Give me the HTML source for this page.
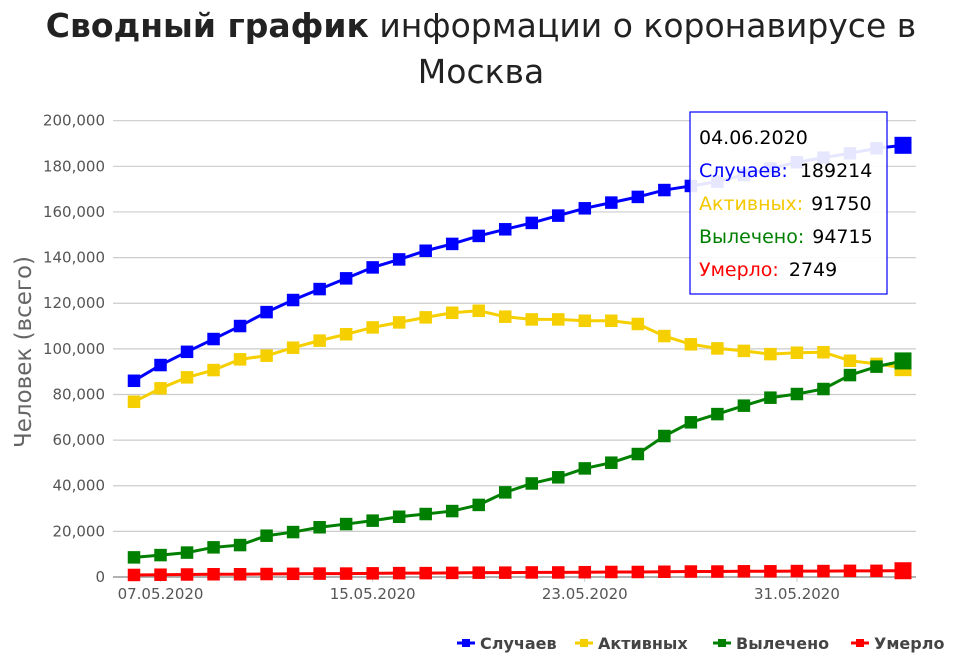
<!DOCTYPE html>
<html><head><meta charset="utf-8"><style>
body{margin:0;background:#fff;width:963px;height:656px;overflow:hidden;font-family:"Liberation Sans","DejaVu Sans",sans-serif}
svg text{font-family:"DejaVu Sans","Liberation Sans",sans-serif}
</style></head><body>
<svg id="chart" width="963" height="656" xmlns="http://www.w3.org/2000/svg">
<text x="481" y="37" text-anchor="middle" font-size="33" fill="#222"><tspan font-weight="bold">Сводный график</tspan> информации о коронавирусе в</text>
<text x="481" y="83" text-anchor="middle" font-size="33" fill="#222">Москва</text>
<text transform="translate(31,352) rotate(-90)" text-anchor="middle" font-size="23" fill="#666">Человек (всего)</text>
<g id="grid"></g><g id="series"></g>
<g>
<rect x="690" y="112" width="197" height="182" fill="#fff" stroke="#0000ff" stroke-width="1.2" fill-opacity="0.9"/>
<text x="699" y="144" font-size="19" fill="#000">04.06.2020</text>
<text x="699" y="177" font-size="19"><tspan fill="#0000ff">Случаев:</tspan><tspan fill="#000" dx="12">189214</tspan></text>
<text x="699" y="210" font-size="19"><tspan fill="#f5c800">Активных:</tspan><tspan fill="#000" dx="8">91750</tspan></text>
<text x="699" y="243" font-size="19"><tspan fill="#008000">Вылечено:</tspan><tspan fill="#000" dx="8">94715</tspan></text>
<text x="699" y="276" font-size="19"><tspan fill="#ff0000">Умерло:</tspan><tspan fill="#000" dx="10">2749</tspan></text>
</g>
<g id="legend"></g>
</svg>
<script>
const dates=["06.05","07.05","08.05","09.05","10.05","11.05","12.05","13.05","14.05","15.05","16.05","17.05","18.05","19.05","20.05","21.05","22.05","23.05","24.05","25.05","26.05","27.05","28.05","29.05","30.05","31.05","01.06","02.06","03.06","04.06"];
const cases=[86.0,92.9,98.7,104.3,110.0,116.1,121.4,126.2,130.9,135.7,139.2,143.0,146.0,149.5,152.4,155.2,158.4,161.6,164.1,166.6,169.6,171.4,173.3,176.2,179.0,181.8,183.8,185.7,187.9,189.214];
const active=[76.8,82.7,87.5,90.7,95.4,97.0,100.5,103.6,106.4,109.4,111.6,113.8,115.8,116.7,114.1,112.9,112.9,112.3,112.3,110.9,105.6,102.0,100.2,99.1,97.7,98.3,98.5,94.8,93.4,91.75];
const recovered=[8.6,9.6,10.7,13.0,14.0,18.1,19.7,21.8,23.2,24.7,26.4,27.6,28.9,31.6,37.1,41.0,43.7,47.6,50.1,53.9,61.8,67.8,71.4,75.1,78.6,80.2,82.4,88.5,92.2,94.715];
const deaths=[0.9,1.0,1.1,1.2,1.2,1.3,1.4,1.5,1.5,1.6,1.7,1.7,1.8,1.9,1.9,2.0,2.0,2.1,2.2,2.2,2.3,2.4,2.4,2.5,2.5,2.6,2.6,2.7,2.7,2.749];
const yTicks=[0,20,40,60,80,100,120,140,160,180,200];
const xTickIdx=[1,9,17,25];
const NS="http://www.w3.org/2000/svg";
const x=i=>134+i*(903-134)/(dates.length-1);
const y=v=>577-v*(577-120.7)/200;
function mk(t,a,p){const e=document.createElementNS(NS,t);for(const k in a)e.setAttribute(k,a[k]);p.appendChild(e);return e;}
const grid=document.getElementById('grid');
yTicks.forEach(v=>{
 const l=mk('line',{x1:113,x2:916,y1:y(v),y2:y(v),stroke:v===0?'#999':'#ccc','stroke-width':v===0?1.5:1.2},grid);
 
 
 const t=mk('text',{x:105,y:y(v)+5,'text-anchor':'end','font-size':15,fill:'#555'},grid);
 t.textContent=(v*1000).toLocaleString('en-US');
 
 
});
xTickIdx.forEach(i=>{
 mk('line',{x1:x(i),x2:x(i),y1:577,y2:582,stroke:'#ccc'},grid);
 const t=mk('text',{x:x(i),y:599,'text-anchor':'middle','font-size':15,fill:'#555'},grid);
 t.textContent=dates[i]+'.2020';
 
 
});
const series=[["cases",cases,"#0000ff","Случаев"],["active",active,"#f5cf00","Активных"],["recovered",recovered,"#008000","Вылечено"],["deaths",deaths,"#ff0000","Умерло"]];
const sg=document.getElementById('series');
series.forEach(([n,d,c])=>{
 const g=mk('g',{},sg);
 
 
 const p=mk('polyline',{points:d.map((v,i)=>x(i)+','+y(v)).join(' '),fill:'none',stroke:c,'stroke-width':3},g);
 
 
 d.forEach((v,i)=>{
  const s=i===d.length-1?17:12.5;
  const r=mk('rect',{x:x(i)-s/2,y:y(v)-s/2,width:s,height:s,fill:c},g);
  
  
 });
});
const lg=document.getElementById('legend');
const lx=[466,584,722,860];
series.forEach(([n,d,c,label],k)=>{
 const g=mk('g',{},lg);
 
 
 mk('line',{x1:lx[k]-9,x2:lx[k]+9,y1:643,y2:643,stroke:c,'stroke-width':3},g);
 mk('rect',{x:lx[k]-4,y:639,width:8,height:8,fill:c},g);
 const t=mk('text',{x:lx[k]+14,y:649,'font-size':16,fill:'#444','font-weight':'bold'},g);
 t.textContent=label;
});
</script>
</body></html>
